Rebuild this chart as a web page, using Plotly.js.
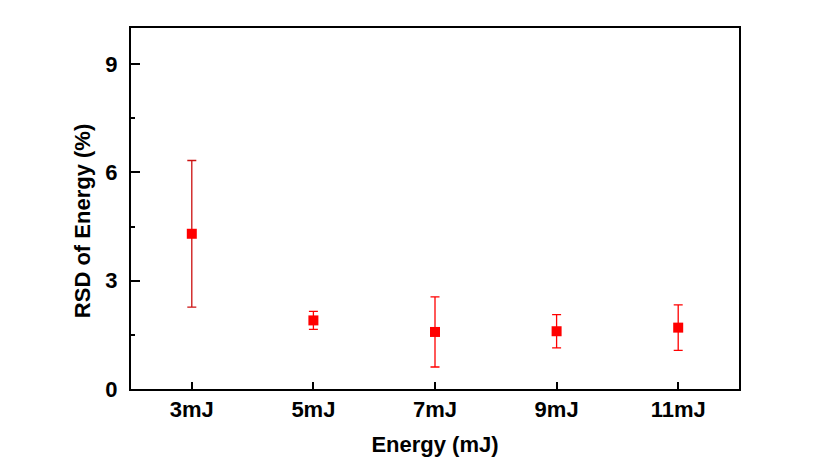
<!DOCTYPE html>
<html>
<head>
<meta charset="utf-8">
<script src="https://cdn.plot.ly/plotly-3.0.1.min.js"></script>
<style>html,body{margin:0;padding:0;background:#fff;}#chart{width:838px;height:471px;}</style>
</head>
<body>
<div id="chart"></div>
<script>
const categories = ["3mJ", "5mJ", "7mJ", "9mJ", "11mJ"];
const rsd = [4.30, 1.90, 1.58, 1.60, 1.70];
const rsdErr = [2.03, 0.25, 0.97, 0.46, 0.63];
const errColors = ["#cc1111", "#ff0000", "#ff0000", "#ff0000", "#ff0000"];

const font = {family: "Liberation Sans, Arial, sans-serif", color: "#000"};
const traces = categories.map((c, i) => ({
  type: "scatter", mode: "markers",
  x: [c], y: [rsd[i]],
  marker: {symbol: "square", size: 10, color: "#ff0000"},
  error_y: {type: "data", array: [rsdErr[i]], visible: true, color: errColors[i], thickness: 1.3, width: 4.5},
  showlegend: false, hoverinfo: "x+y"
}));

const layout = {
  width: 838, height: 471,
  margin: {l: 131, r: 99, t: 28, b: 82},
  paper_bgcolor: "#fff", plot_bgcolor: "#fff",
  showlegend: false,
  xaxis: {
    type: "category", categoryarray: categories, range: [-0.5, 4.5],
    showline: true, linecolor: "#000", linewidth: 2, mirror: true,
    ticks: "inside", ticklen: 7, tickwidth: 2, tickcolor: "#000",
    minor: {ticks: "inside", ticklen: 4, tickwidth: 2, tickcolor: "#000"},
    showgrid: false, zeroline: false,
    tickfont: Object.assign({size: 22, weight: "bold"}, font),
    title: {text: "<b>Energy (mJ)</b>", font: Object.assign({size: 22}, font), standoff: 15}
  },
  yaxis: {
    range: [0, 10], tickvals: [0, 3, 6, 9],
    showline: true, linecolor: "#000", linewidth: 2, mirror: true,
    ticks: "inside", ticklen: 9, tickwidth: 2, tickcolor: "#000",
    minor: {tickvals: [1.5, 4.5, 7.5], ticks: "inside", ticklen: 4, tickwidth: 2, tickcolor: "#000"},
    showgrid: false, zeroline: false, ticklabelstandoff: 7,
    tickfont: Object.assign({size: 22, weight: "bold"}, font)
  },
  annotations: [{
    text: "<b>RSD of Energy (%)</b>", xref: "paper", yref: "paper",
    x: -0.0806, y: 0.465, xanchor: "center", yanchor: "middle",
    textangle: -90, showarrow: false, font: Object.assign({size: 22}, font)
  }]
};
Plotly.newPlot("chart", traces, layout, {displayModeBar: false, staticPlot: true});
</script>
</body>
</html>
